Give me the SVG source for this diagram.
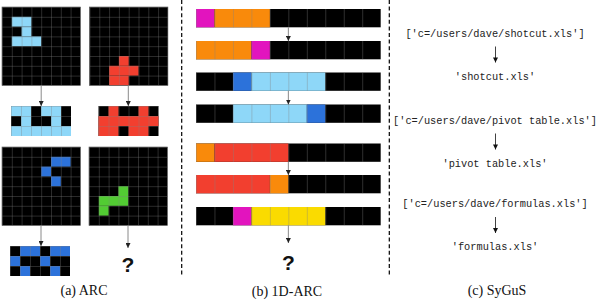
<svg xmlns="http://www.w3.org/2000/svg" width="609" height="308" viewBox="0 0 609 308">
<style>
.k{fill:#000}
.lb{fill:#8ED7F8}
.rd{fill:#F23F2F}
.bl{fill:#2C72DA}
.gr{fill:#52CC33}
.mg{fill:#E214BE}
.or{fill:#F98A0B}
.ye{fill:#FADB00}
.edge{fill:none;stroke:#555;stroke-width:0.6}
.cap{font-family:"Liberation Serif","Times New Roman",serif;font-size:14px;fill:#111;text-anchor:middle}
.q{font-family:"Liberation Sans",Arial,sans-serif;font-weight:bold;font-size:21px;fill:#111;text-anchor:middle}
.code{font-family:"Liberation Mono","Courier New",monospace;font-size:10.3px;fill:#222;text-anchor:middle}
.sep{stroke:#000;stroke-width:1.2;stroke-dasharray:4 2.6;fill:none}
.garrow{stroke:#8a8a8a;stroke-width:1;fill:none;marker-end:url(#ah)}
.karrow{stroke:#111;stroke-width:0.8;fill:none;marker-end:url(#ahk)}
</style>
<defs>
<pattern id="g98" patternUnits="userSpaceOnUse" width="9.8" height="9.8">
<rect x="0" y="0" width="0.6" height="9.8" fill="#808080" fill-opacity="0.55"/>
<rect x="0" y="0" width="9.8" height="0.6" fill="#808080" fill-opacity="0.55"/>
</pattern>
<pattern id="g10" patternUnits="userSpaceOnUse" width="10" height="10">
<rect x="0" y="0" width="0.6" height="10" fill="#808080" fill-opacity="0.55"/>
<rect x="0" y="0" width="10" height="0.6" fill="#808080" fill-opacity="0.55"/>
</pattern>
<pattern id="g1d" patternUnits="userSpaceOnUse" width="18.47" height="18.3">
<rect x="0" y="0" width="0.8" height="18.3" fill="#808080" fill-opacity="0.45"/>
</pattern>
<marker id="ah" viewBox="0 0 6 6" refX="6" refY="3" markerWidth="5" markerHeight="5" markerUnits="userSpaceOnUse" orient="auto">
<path d="M0,0 L6,3 L0,6 z" fill="#222"/>
</marker>
<marker id="ahk" viewBox="0 0 6 6" refX="6" refY="3" markerWidth="6" markerHeight="5" markerUnits="userSpaceOnUse" orient="auto">
<path d="M0,0 L6,3 L0,6 z" fill="#111"/>
</marker>
</defs>
<rect width="609" height="308" fill="#fff"/>

<!-- ARC panel -->
<g id="arc-in1" transform="translate(2,7)">
<rect class="k" width="78.4" height="78.4"/>
<rect class="lb" x="9.8" y="9.8" width="19.6" height="9.8"/>
<rect class="lb" x="19.6" y="19.6" width="9.8" height="9.8"/>
<rect class="lb" x="9.8" y="29.4" width="29.4" height="9.8"/>
<rect fill="url(#g98)" width="78.4" height="78.4"/>
<rect class="edge" width="78.4" height="78.4"/>
</g>
<g id="arc-in2" transform="translate(89.5,7)">
<rect class="k" width="78.4" height="78.4"/>
<rect class="rd" x="29.4" y="49" width="9.8" height="9.8"/>
<rect class="rd" x="19.6" y="58.8" width="29.4" height="9.8"/>
<rect class="rd" x="19.6" y="68.6" width="19.6" height="9.8"/>
<rect fill="url(#g98)" width="78.4" height="78.4"/>
<rect class="edge" width="78.4" height="78.4"/>
</g>
<g id="arc-out1" transform="translate(11,106)">
<rect class="k" width="60" height="30"/>
<rect class="lb" x="0" y="0" width="20" height="10"/>
<rect class="lb" x="30" y="0" width="20" height="10"/>
<rect class="lb" x="10" y="10" width="10" height="10"/>
<rect class="lb" x="40" y="10" width="10" height="10"/>
<rect class="lb" x="0" y="20" width="60" height="10"/>
<rect fill="url(#g10)" width="60" height="30"/>
</g>
<g id="arc-out2" transform="translate(98.5,106)">
<rect class="k" width="60" height="30"/>
<rect class="rd" x="10" y="0" width="10" height="10"/>
<rect class="rd" x="40" y="0" width="10" height="10"/>
<rect class="rd" x="0" y="10" width="60" height="10"/>
<rect class="rd" x="0" y="20" width="20" height="10"/>
<rect class="rd" x="30" y="20" width="20" height="10"/>
<rect fill="url(#g10)" width="60" height="30"/>
</g>
<g id="arc-in3" transform="translate(2,147)">
<rect class="k" width="78.4" height="78.4"/>
<rect class="bl" x="49" y="9.8" width="19.6" height="9.8"/>
<rect class="bl" x="39.2" y="19.6" width="9.8" height="9.8"/>
<rect class="bl" x="49" y="29.4" width="9.8" height="9.8"/>
<rect fill="url(#g98)" width="78.4" height="78.4"/>
<rect class="edge" width="78.4" height="78.4"/>
</g>
<g id="arc-in4" transform="translate(89,147)">
<rect class="k" width="78.4" height="78.4"/>
<rect class="gr" x="29.4" y="39.2" width="9.8" height="9.8"/>
<rect class="gr" x="9.8" y="49" width="29.4" height="9.8"/>
<rect class="gr" x="9.8" y="58.8" width="9.8" height="9.8"/>
<rect fill="url(#g98)" width="78.4" height="78.4"/>
<rect class="edge" width="78.4" height="78.4"/>
</g>
<g id="arc-out3" transform="translate(10,246)">
<rect class="k" width="60" height="30"/>
<rect class="bl" x="10" y="0" width="20" height="10"/>
<rect class="bl" x="40" y="0" width="20" height="10"/>
<rect class="bl" x="0" y="10" width="10" height="10"/>
<rect class="bl" x="30" y="10" width="10" height="10"/>
<rect class="bl" x="10" y="20" width="10" height="10"/>
<rect class="bl" x="40" y="20" width="10" height="10"/>
<rect fill="url(#g10)" width="60" height="30"/>
</g>
<g id="arc-q"><text class="q" x="128" y="272">?</text></g>
<g id="arc-caption"><text class="cap" x="84" y="295">(a) ARC</text></g>

<!-- 1D-ARC panel -->
<g id="row1" transform="translate(196,9)">
<rect class="k" width="184.7" height="18.3"/>
<rect class="mg" x="0" width="18.47" height="18.3"/>
<rect class="or" x="18.47" width="55.41" height="18.3"/>
<rect fill="url(#g1d)" width="184.7" height="18.3"/>
</g>
<g id="row2" transform="translate(196,41)">
<rect class="k" width="184.7" height="18.3"/>
<rect class="or" x="0" width="55.41" height="18.3"/>
<rect class="mg" x="55.41" width="18.47" height="18.3"/>
<rect fill="url(#g1d)" width="184.7" height="18.3"/>
</g>
<g id="row3" transform="translate(196,72.5)">
<rect class="k" width="184.7" height="18.3"/>
<rect class="bl" x="36.94" width="18.47" height="18.3"/>
<rect class="lb" x="55.41" width="73.88" height="18.3"/>
<rect fill="url(#g1d)" width="184.7" height="18.3"/>
</g>
<g id="row4" transform="translate(196,104.5)">
<rect class="k" width="184.7" height="18.3"/>
<rect class="lb" x="36.94" width="73.88" height="18.3"/>
<rect class="bl" x="110.82" width="18.47" height="18.3"/>
<rect fill="url(#g1d)" width="184.7" height="18.3"/>
</g>
<g id="row5" transform="translate(196,143.5)">
<rect class="k" width="184.7" height="18.3"/>
<rect class="or" x="0" width="18.47" height="18.3"/>
<rect class="rd" x="18.47" width="73.88" height="18.3"/>
<rect fill="url(#g1d)" width="184.7" height="18.3"/>
</g>
<g id="row6" transform="translate(196,175)">
<rect class="k" width="184.7" height="18.3"/>
<rect class="rd" x="0" width="73.88" height="18.3"/>
<rect class="or" x="73.88" width="18.47" height="18.3"/>
<rect fill="url(#g1d)" width="184.7" height="18.3"/>
</g>
<g id="row7" transform="translate(196,207)">
<rect class="k" width="184.7" height="18.3"/>
<rect class="mg" x="36.94" width="18.47" height="18.3"/>
<rect class="ye" x="55.41" width="73.88" height="18.3"/>
<rect fill="url(#g1d)" width="184.7" height="18.3"/>
</g>
<g id="oned-q"><text class="q" x="288.3" y="270">?</text></g>
<g id="oned-caption"><text class="cap" x="287" y="296">(b) 1D-ARC</text></g>

<!-- SyGuS panel -->
<g id="sy-in1"><text class="code" x="495" y="36.5">['c=/users/dave/shotcut.xls']</text></g>
<g id="sy-out1"><text class="code" x="495" y="79.5">'shotcut.xls'</text></g>
<g id="sy-in2"><text class="code" x="495" y="123.5">['c=/users/dave/pivot table.xls']</text></g>
<g id="sy-out2"><text class="code" x="495" y="166.5">'pivot table.xls'</text></g>
<g id="sy-in3"><text class="code" x="495" y="207">['c=/users/dave/formulas.xls']</text></g>
<g id="sy-out3"><text class="code" x="495" y="250">'formulas.xls'</text></g>
<g id="sy-caption"><text class="cap" x="497" y="295">(c) SyGuS</text></g>

<!-- separators -->
<g id="separators">
<line class="sep" x1="181.7" y1="0" x2="181.7" y2="275"/>
<line class="sep" x1="389.3" y1="0" x2="389.3" y2="275"/>
</g>

<!-- connectors -->
<g id="connectors">
<line class="garrow" x1="41.2" y1="85.5" x2="41.2" y2="106"/>
<line class="garrow" x1="128.3" y1="85.5" x2="128.3" y2="106"/>
<line class="garrow" x1="41" y1="225.5" x2="41" y2="246"/>
<line class="garrow" x1="128" y1="225.5" x2="128" y2="248"/>
<line class="garrow" x1="288.35" y1="27.3" x2="288.35" y2="41"/>
<line class="garrow" x1="288.35" y1="90.8" x2="288.35" y2="104.5"/>
<line class="garrow" x1="288.35" y1="161.8" x2="288.35" y2="175"/>
<line class="garrow" x1="288.35" y1="225.3" x2="288.35" y2="243"/>
<line class="karrow" x1="495.5" y1="46.5" x2="495.5" y2="62.5"/>
<line class="karrow" x1="495.5" y1="133.5" x2="495.5" y2="149.5"/>
<line class="karrow" x1="495.5" y1="217" x2="495.5" y2="233"/>
</g>
</svg>
